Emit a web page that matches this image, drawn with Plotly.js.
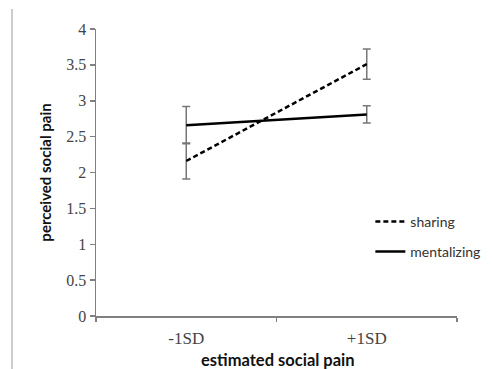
<!DOCTYPE html>
<html>
<head>
<meta charset="utf-8">
<script src="https://cdn.plot.ly/plotly-3.0.1.min.js"></script>
<style>html,body{margin:0;padding:0;background:#fff;}#chart{width:492px;height:369px;}</style>
</head>
<body>
<div id="chart"></div>
<script>
var categories = ["-1SD", "+1SD"];
var sharingValues = [2.16, 3.51];
var sharingErrors = [0.25, 0.21];
var mentalizingValues = [2.66, 2.81];
var mentalizingErrors = [0.26, 0.12];
var yTickValues = [0, 0.5, 1, 1.5, 2, 2.5, 3, 3.5, 4];
var yTickLabels = ["0", "0.5", "1", "1.5", "2", "2.5", "3", "3.5", "4"];
var xAxisTitle = "estimated social pain";
var yAxisTitle = "perceived social pain";

var errStyle = {type: "data", visible: true, color: "#777777", thickness: 1.5, width: 4};

var traces = [
  {
    x: categories, y: sharingValues, name: "sharing", type: "scatter", mode: "lines",
    line: {color: "#000000", width: 2.5, dash: "5px,3px"},
    error_y: Object.assign({array: sharingErrors}, errStyle),
    legendgroup: "a"
  },
  {
    x: categories, y: mentalizingValues, name: "mentalizing", type: "scatter", mode: "lines",
    line: {color: "#000000", width: 2.5},
    error_y: Object.assign({array: mentalizingErrors}, errStyle),
    legendgroup: "b"
  }
];

var layout = {
  width: 492, height: 369,
  margin: {l: 96, r: 35, t: 29, b: 53, autoexpand: false},
  paper_bgcolor: "#ffffff", plot_bgcolor: "#ffffff",
  showlegend: true,
  legend: {
    x: 0.76, y: 0.384, xanchor: "left", yanchor: "top",
    font: {family: "Lato, 'Open Sans', sans-serif", size: 14, color: "#333333"},
    traceorder: "grouped", tracegroupgap: 9, bgcolor: "rgba(0,0,0,0)"
  },
  xaxis: {
    type: "category", range: [-0.5, 1.5], automargin: false,
    showline: true, linecolor: "#808080", linewidth: 1.5,
    ticks: "outside", tickson: "boundaries", ticklen: 4, tickcolor: "#808080", tickwidth: 1.5,
    showgrid: false, zeroline: false, ticklabelstandoff: 6,
    tickfont: {family: "'Liberation Serif', serif", size: 17, color: "#444444"}
  },
  yaxis: {
    range: [0, 4], tickvals: yTickValues, ticktext: yTickLabels, automargin: false,
    showline: true, linecolor: "#808080", linewidth: 1.5,
    ticks: "outside", ticklen: 5, tickcolor: "#808080", tickwidth: 1.5,
    showgrid: false, zeroline: false,
    tickfont: {family: "'Liberation Serif', serif", size: 16, color: "#444444"},
    title: {text: yAxisTitle, font: {family: "Lato, 'Open Sans', sans-serif", size: 15, color: "#111111", weight: "bold"}, standoff: 11}
  },
  annotations: [
    {text: xAxisTitle, xref: "paper", yref: "paper", x: 0.5055, y: -0.152,
     xanchor: "center", yanchor: "middle", showarrow: false,
     font: {family: "Lato, 'Open Sans', sans-serif", size: 16.5, color: "#111111", weight: "bold"}}
  ],
  shapes: [
    {type: "line", xref: "paper", yref: "paper", x0: -0.2327, x1: -0.2327, y0: 1.07, y1: -0.2,
     line: {color: "#cccccc", width: 2}}
  ]
};

Plotly.newPlot("chart", traces, layout, {displayModeBar: false, staticPlot: true});
</script>
</body>
</html>
